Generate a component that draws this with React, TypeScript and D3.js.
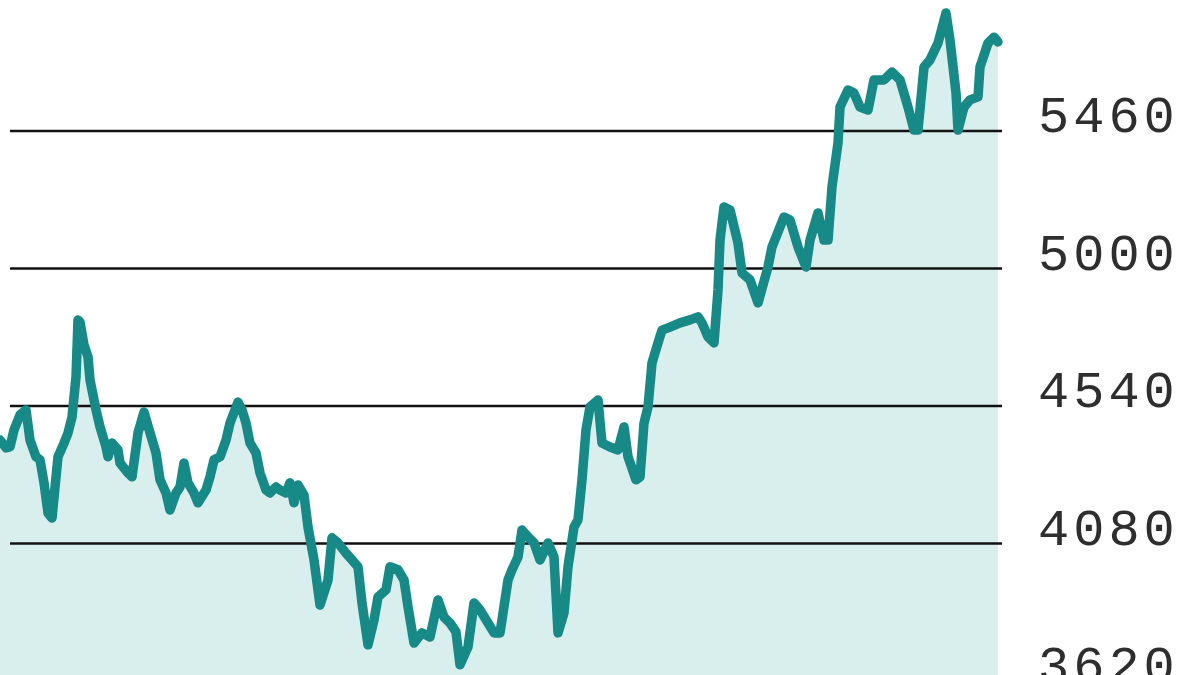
import React, { useEffect, useRef } from 'react';
import * as d3 from 'd3';

// trading sessions (index) and index closes
const sessions = [
  0, 3, 5, 7, 10, 13, 15, 18, 20, 22,
  24, 26, 29, 32, 34, 36, 38, 39, 40, 42,
  44, 45, 48, 50, 53, 54, 56, 59, 60, 64,
  66, 69, 72, 75, 78, 80, 83, 85, 88, 90,
  92, 94, 97, 99, 103, 105, 107, 110, 113, 115,
  119, 121, 123, 125, 128, 130, 133, 135, 138, 140,
  143, 145, 147, 149, 152, 154, 157, 160, 164, 166,
  169, 173, 176, 179, 181, 184, 187, 189, 193, 195,
  199, 202, 204, 207, 211, 215, 219, 222, 225, 228,
  230, 234, 237, 240, 244, 247, 250, 254, 256, 259,
  261, 264, 267, 270, 274, 277, 279, 282, 284, 287,
  289, 291, 293, 295, 299, 301, 305, 309, 312, 314,
  318, 320, 322, 324, 326, 329, 331, 335, 340, 345,
  349, 351, 354, 357, 359, 360, 362, 365, 369, 371,
  375, 379, 384, 386, 392, 395, 399, 403, 405, 409,
  412, 414, 416, 419, 420, 424, 427, 430, 434, 437,
  442, 446, 450, 454, 457, 459, 462, 465, 469, 473,
  475, 478, 479, 482, 485, 489, 490, 494, 497, 499,
];

const closes = [
  4426, 4400, 4403, 4460, 4510, 4527, 4426, 4370, 4360, 4283,
  4182, 4165, 4370, 4416, 4450, 4503, 4637, 4828, 4821, 4744,
  4704, 4627, 4527, 4470, 4403, 4370, 4416, 4393, 4349, 4316,
  4303, 4450, 4520, 4450, 4383, 4293, 4249, 4192, 4249, 4269,
  4349, 4283, 4249, 4216, 4259, 4303, 4360, 4370, 4426, 4483,
  4553, 4527, 4483, 4416, 4383, 4316, 4259, 4249, 4269, 4259,
  4249, 4283, 4216, 4276, 4242, 4135, 4025, 3874, 3958, 4099,
  4082, 4048, 4025, 4002, 3881, 3741, 3824, 3901, 3925, 4002,
  3992, 3958, 3868, 3747, 3781, 3767, 3891, 3834, 3814, 3784,
  3674, 3734, 3881, 3858, 3814, 3781, 3781, 3958, 3992, 4035,
  4125, 4102, 4082, 4025, 4082, 4035, 3781, 3848, 4002, 4135,
  4159, 4293, 4460, 4537, 4560, 4416, 4403, 4393, 4470, 4370,
  4293, 4303, 4483, 4537, 4684, 4751, 4794, 4804, 4818, 4828,
  4838, 4818, 4771, 4751, 4928, 5095, 5206, 5196, 5085, 4985,
  4962, 4885, 5005, 5072, 5172, 5162, 5072, 5005, 5095, 5186,
  5095, 5095, 5273, 5420, 5540, 5597, 5587, 5540, 5530, 5631,
  5631, 5657, 5631, 5540, 5463, 5463, 5674, 5698, 5754, 5855,
  5764, 5587, 5463, 5540, 5564, 5574, 5674, 5754, 5774, 5758,
];

const yTicks = [3620, 4080, 4540, 5000, 5460];

const W = 1200;
const H = 675;

export default function App() {
  const svgRef = useRef<SVGSVGElement>(null);

  useEffect(() => {
    if (!svgRef.current) return;
    const svg = d3.select(svgRef.current);
    svg.selectAll('*').remove();

    const data = sessions.map((s, i) => ({ s, v: closes[i] }));

    const x = d3.scaleLinear().domain([0, 499]).range([0, 998]);
    const y = d3.scaleLinear().domain([3620, 5460]).range([681, 131]);

    const area = d3.area<{ s: number; v: number }>()
      .x(d => x(d.s))
      .y0(H)
      .y1(d => y(d.v));

    const line = d3.line<{ s: number; v: number }>()
      .x(d => x(d.s))
      .y(d => y(d.v));

    svg.append('rect').attr('width', W).attr('height', H).attr('fill', '#ffffff');

    svg.append('path')
      .datum(data)
      .attr('d', area)
      .attr('fill', '#d9efee');

    // grid lines
    svg.selectAll('.grid')
      .data(yTicks)
      .enter()
      .append('line')
      .attr('x1', 10)
      .attr('x2', 1002)
      .attr('y1', d => y(d))
      .attr('y2', d => y(d))
      .attr('stroke', '#111')
      .attr('stroke-width', 2.5);

    svg.append('path')
      .datum(data)
      .attr('d', line)
      .attr('fill', 'none')
      .attr('stroke', '#178986')
      .attr('stroke-width', 9.5)
      .attr('stroke-linejoin', 'round')
      .attr('stroke-linecap', 'round');

    svg.selectAll('.lbl')
      .data(yTicks)
      .enter()
      .append('text')
      .attr('x', 1038)
      .attr('y', d => y(d) + 1)
      .attr('fill', '#2e2e2e')
      .attr('font-family', '"Liberation Mono", "Courier New", monospace')
      .attr('font-size', 52)
      .attr('letter-spacing', 4)
      .text(d => String(d));
  }, []);

  return (
    <svg
      ref={svgRef}
      width={W}
      height={H}
      viewBox={`0 0 ${W} ${H}`}
      style={{ position: 'fixed', left: 0, top: 0, display: 'block' }}
    />
  );
}
